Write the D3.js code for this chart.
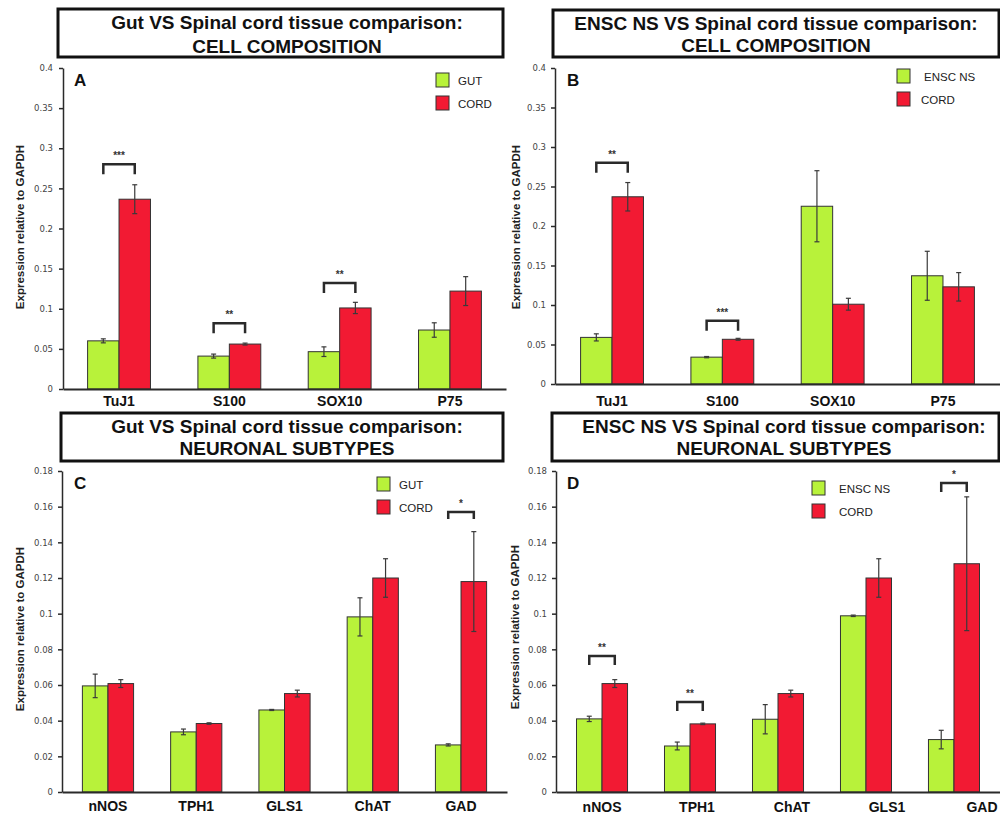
<!DOCTYPE html>
<html>
<head>
<meta charset="utf-8">
<script src="https://cdn.jsdelivr.net/npm/d3@7"></script>
<style>
  body { margin: 0; background: #fff; }
  svg { display: block; font-family: "Liberation Sans", Arial, sans-serif; }
</style>
</head>
<body>
<div id="okvir"></div>
<script>
// podaci - stanicni sastav (A, B)
const cellMarkers = ["TuJ1", "S100", "SOX10", "P75"]
const gutCell = [0.060, 0.041, 0.0465, 0.0735]
const gutCellErr = [0.0025, 0.0025, 0.006, 0.009]
const cordCellA = [0.2365, 0.056, 0.101, 0.122]
const cordCellAErr = [0.018, 0.0012, 0.007, 0.018]
const ensCell = [0.059, 0.034, 0.225, 0.137]
const ensCellErr = [0.0045, 0.0008, 0.045, 0.031]
const cordCellB = [0.237, 0.0566, 0.101, 0.123]
const cordCellBErr = [0.018, 0.0012, 0.0075, 0.018]

// podaci - neuronski podtipovi (C, D)
const neuroMarkersC = ["nNOS", "TPH1", "GLS1", "ChAT", "GAD"]
const gutNeuro = [0.0595, 0.0337, 0.046, 0.0982, 0.0264]
const gutNeuroErr = [0.0066, 0.0016, 0.0003, 0.0107, 0.0006]
const cordNeuroC = [0.0608, 0.0384, 0.0552, 0.120, 0.118]
const cordNeuroCErr = [0.0022, 0.0004, 0.0019, 0.0108, 0.028]

const neuroMarkersD = ["nNOS", "TPH1", "ChAT", "GLS1", "GAD"]
const ensNeuro = [0.041, 0.0258, 0.0408, 0.0988, 0.0294]
const ensNeuroErr = [0.0015, 0.0022, 0.0082, 0.0004, 0.0052]
const cordNeuroD = [0.0608, 0.0382, 0.0552, 0.120, 0.128]
const cordNeuroDErr = [0.0022, 0.0004, 0.0019, 0.0108, 0.0375]

// oznake osi
const cellTicks = [0, 0.05, 0.1, 0.15, 0.2, 0.25, 0.3, 0.35, 0.4]
const neuroTicks = [0, 0.02, 0.04, 0.06, 0.08, 0.1, 0.12, 0.14, 0.16, 0.18]

// znacajnost (marker, zvjezdice, vrh zagrade)
const sigMarkersA = ["TuJ1", "S100", "SOX10"]
const sigStarsA = ["***", "**", "**"]
const sigTopA = [0.280, 0.082, 0.132]
const sigMarkersB = ["TuJ1", "S100"]
const sigStarsB = ["**", "***"]
const sigTopB = [0.280, 0.080]
const sigMarkersC = ["GAD"]
const sigStarsC = ["*"]
const sigTopC = [0.157]
const sigMarkersD = ["nNOS", "TPH1", "GAD"]
const sigStarsD = ["**", "**", "*"]
const sigTopD = [0.0763, 0.0505, 0.1733]

const zelena = "#b8f23a"
const crvena = "#f21a33"
const tamna = "#2a2a2a"

const okvir = d3.select("#okvir")
  .append("svg")
    .attr("width", 1000)
    .attr("height", 816)

const fmt = d => d === 0 ? "0" : String(+d.toFixed(2))

function crtajPanel(p) {
  const g = okvir.append("g")

  // naslov u okviru
  g.append("rect")
      .attr("x", p.box[0])
      .attr("y", p.box[1])
      .attr("width", p.box[2])
      .attr("height", p.box[3])
      .attr("fill", "none")
      .attr("stroke", "#111")
      .attr("stroke-width", 3)
  p.naslov.forEach((t, i) => {
    g.append("text")
        .attr("x", p.naslovX)
        .attr("y", p.naslovY[i])
        .attr("text-anchor", "middle")
        .style("font-size", "19px")
        .style("font-weight", "bold")
        .attr("fill", "#111")
        .text(t)
  })

  const x = d3.scaleBand()
    .domain(p.kategorije)
    .range([p.left, p.right])
    .paddingInner(p.padIn)
    .paddingOuter(p.padOut)
  const xSub = d3.scaleBand()
    .domain([0, 1])
    .range([0, x.bandwidth()])
  const y = d3.scaleLinear()
    .domain([0, p.ymax])
    .range([p.bottom, p.top])

  const serije = [
    { vr: p.v1, err: p.e1, boja: zelena },
    { vr: p.v2, err: p.e2, boja: crvena },
  ]

  // stupci
  serije.forEach((s, si) => {
    g.append("g").selectAll("rect")
      .data(p.kategorije)
      .join("rect")
        .attr("x", d => x(d) + xSub(si))
        .attr("y", (d, i) => y(s.vr[i]))
        .attr("width", xSub.bandwidth())
        .attr("height", (d, i) => y(0) - y(s.vr[i]))
        .attr("fill", s.boja)
        .attr("stroke", "#333")
        .attr("stroke-width", 1)
  })

  // greske
  serije.forEach((s, si) => {
    const eg = g.append("g")
      .attr("stroke", "#3a3a3a")
      .attr("stroke-width", 1.2)
    p.kategorije.forEach((k, i) => {
      const cx = x(k) + xSub(si) + xSub.bandwidth() / 2
      const y1 = y(s.vr[i] + s.err[i])
      const y2 = y(s.vr[i] - s.err[i])
      eg.append("line").attr("x1", cx).attr("x2", cx).attr("y1", y1).attr("y2", y2)
      eg.append("line").attr("x1", cx - 2.5).attr("x2", cx + 2.5).attr("y1", y1).attr("y2", y1)
      eg.append("line").attr("x1", cx - 2.5).attr("x2", cx + 2.5).attr("y1", y2).attr("y2", y2)
    })
  })

  // zagrade znacajnosti
  p.sigMarkeri.forEach((k, i) => {
    const xa = x(k) + xSub(0) + xSub.bandwidth() / 2
    const xb = x(k) + xSub(1) + xSub.bandwidth() / 2
    const yt = y(p.sigVrh[i])
    g.append("path")
        .attr("d", `M${xa},${yt + p.noga}V${yt}H${xb}V${yt + p.noga}`)
        .attr("fill", "none")
        .attr("stroke", tamna)
        .attr("stroke-width", 2.5)
    g.append("text")
        .attr("x", (xa + xb) / 2)
        .attr("y", yt - 5)
        .attr("text-anchor", "middle")
        .style("font-size", "10px")
        .style("font-weight", "bold")
        .attr("fill", "#333")
        .text(p.sigZvj[i])
  })

  // osi
  const yOs = g.append("g")
      .attr("transform", `translate(${p.left},0)`)
      .call(d3.axisLeft(y).tickValues(p.ticks).tickFormat(fmt).tickSize(4).tickSizeOuter(0).tickPadding(p.yPad))
  yOs.select(".domain").attr("stroke", tamna).attr("stroke-width", 1.5)
  yOs.selectAll(".tick line").attr("stroke", tamna).attr("stroke-width", 1.5)
  yOs.selectAll(".tick text")
      .attr("fill", "#444")
      .style("font-family", "'DejaVu Sans', sans-serif")
      .style("font-size", "8.5px")

  const xOs = g.append("g")
      .attr("transform", `translate(0,${p.bottom})`)
      .call(d3.axisBottom(x).tickSize(0).tickSizeOuter(0).tickPadding(p.xPad))
  xOs.select(".domain").attr("stroke", tamna).attr("stroke-width", 2)
  xOs.selectAll(".tick text")
      .attr("fill", "#111")
      .attr("dx", (d, i) => i * p.xPomak)
      .style("font-size", "14px")
      .style("font-weight", "bold")
      .style("font-family", "'Liberation Sans', Arial, sans-serif")

  // naziv y osi
  g.append("text")
      .attr("transform", `translate(${p.yLab[0]},${p.yLab[1]}) rotate(-90)`)
      .attr("text-anchor", "middle")
      .style("font-size", "11.5px")
      .style("font-weight", "bold")
      .attr("fill", "#222")
      .text("Expression relative to GAPDH")

  // slovo panela
  g.append("text")
      .attr("x", p.slovo[0])
      .attr("y", p.slovo[1])
      .style("font-size", "17px")
      .style("font-weight", "bold")
      .attr("fill", "#111")
      .text(p.slovo[2])

  // legenda
  p.legenda.forEach((t, i) => {
    g.append("rect")
        .attr("x", p.legX)
        .attr("y", p.legY + i * 23)
        .attr("width", 13)
        .attr("height", 14)
        .attr("fill", i === 0 ? zelena : crvena)
        .attr("stroke", "#333")
        .attr("stroke-width", 1)
    g.append("text")
        .attr("x", p.legTx[i])
        .attr("y", p.legY + i * 23 + 11.5)
        .style("font-size", "11.5px")
        .attr("fill", "#222")
        .text(t)
  })
}

crtajPanel({
  box: [58, 9, 445, 48], naslovX: 287, naslovY: [29, 53],
  naslov: ["Gut VS Spinal cord tissue comparison:", "CELL COMPOSITION"],
  kategorije: cellMarkers, v1: gutCell, e1: gutCellErr, v2: cordCellA, e2: cordCellAErr,
  left: 63, right: 506, top: 68, bottom: 389, ymax: 0.4, padIn: 0.43, padOut: 0.223,
  ticks: cellTicks, yPad: 6, xPad: 7, xPomak: 0,
  sigMarkeri: sigMarkersA, sigZvj: sigStarsA, sigVrh: sigTopA, noga: 10,
  yLab: [24, 227], slovo: [74, 86, "A"],
  legenda: ["GUT", "CORD"], legX: 436, legY: 73, legTx: [458, 458],
})

crtajPanel({
  box: [553, 10, 446, 47], naslovX: 776, naslovY: [30, 52],
  naslov: ["ENSC NS VS Spinal cord tissue comparison:", "CELL COMPOSITION"],
  kategorije: cellMarkers, v1: ensCell, e1: ensCellErr, v2: cordCellB, e2: cordCellBErr,
  left: 555, right: 1000, top: 68, bottom: 384, ymax: 0.4, padIn: 0.43, padOut: 0.232,
  ticks: cellTicks, yPad: 5, xPad: 12, xPomak: 0,
  sigMarkeri: sigMarkersB, sigZvj: sigStarsB, sigVrh: sigTopB, noga: 10,
  yLab: [520, 227], slovo: [567, 86, "B"],
  legenda: ["ENSC NS", "CORD"], legX: 897, legY: 69, legTx: [924, 921],
})

crtajPanel({
  box: [61, 413, 442, 48], naslovX: 287, naslovY: [433, 455],
  naslov: ["Gut VS Spinal cord tissue comparison:", "NEURONAL SUBTYPES"],
  kategorije: neuroMarkersC, v1: gutNeuro, e1: gutNeuroErr, v2: cordNeuroC, e2: cordNeuroCErr,
  left: 62, right: 507, top: 471, bottom: 792, ymax: 0.18, padIn: 0.42, padOut: 0.231,
  ticks: neuroTicks, yPad: 5, xPad: 9, xPomak: 0,
  sigMarkeri: sigMarkersC, sigZvj: sigStarsC, sigVrh: sigTopC, noga: 7,
  yLab: [24, 629], slovo: [74, 489, "C"],
  legenda: ["GUT", "CORD"], legX: 377, legY: 477, legTx: [399, 399],
})

crtajPanel({
  box: [552, 413, 447, 48], naslovX: 784, naslovY: [433, 455],
  naslov: ["ENSC NS VS Spinal cord tissue comparison:", "NEURONAL SUBTYPES"],
  kategorije: neuroMarkersD, v1: ensNeuro, e1: ensNeuroErr, v2: cordNeuroD, e2: cordNeuroDErr,
  left: 556, right: 1000, top: 471, bottom: 792, ymax: 0.18, padIn: 0.42, padOut: 0.233,
  ticks: neuroTicks, yPad: 5, xPad: 10, xPomak: 7,
  sigMarkeri: sigMarkersD, sigZvj: sigStarsD, sigVrh: sigTopD, noga: 9,
  yLab: [519, 627], slovo: [567, 489, "D"],
  legenda: ["ENSC NS", "CORD"], legX: 812, legY: 481, legTx: [839, 839],
})
</script>
</body>
</html>
